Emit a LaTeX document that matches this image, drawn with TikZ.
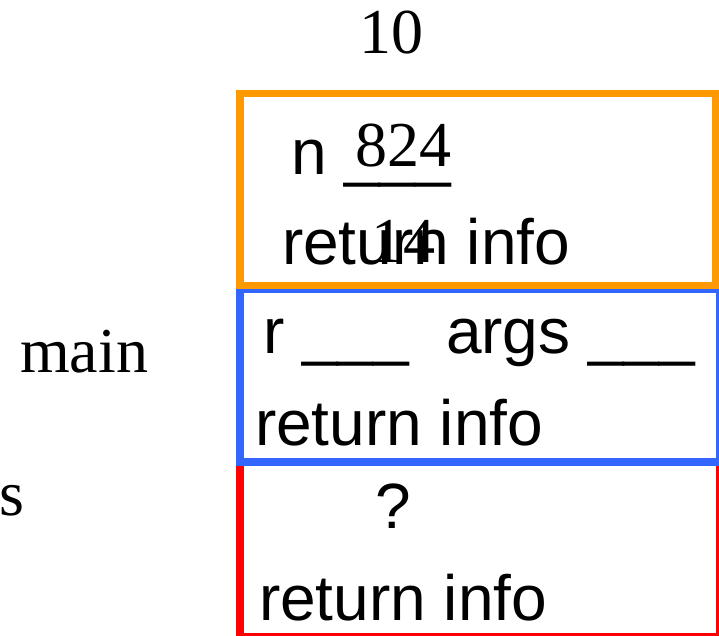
\documentclass[tikz,border=0pt]{standalone}
\usepackage{fontspec}
\setmainfont{Liberation Serif}
\newfontfamily\sansfam{Liberation Sans}
\definecolor{frameorange}{HTML}{FF9900}
\definecolor{frameblue}{HTML}{3366FF}
\definecolor{framered}{HTML}{FF0000}
\begin{document}
\begin{tikzpicture}[x=1pt,y=-1pt,
  lbl/.style={anchor=base west,inner sep=0pt,outer sep=0pt,font=\fontsize{64}{64}\selectfont},
  slbl/.style={lbl,font=\fontsize{64}{64}\selectfont\sansfam},
  framebox/.style={line width=7.5pt}]
\useasboundingbox (0,0) rectangle (719,635);
\clip (0,0) rectangle (719,635);
% frames
\draw[framebox,framered] (240,462) rectangle (720,637);
\draw[framebox,frameblue] (240,289) rectangle (720,462);
\draw[framebox,frameorange] (240,93.5) rectangle (715.5,285.5);
% left labels and top number
\node[lbl] (ten) at (359,53) {10};
\node[lbl] (main) at (20,372) {main};
\node[lbl] (s) at (-1,515) {s};
% orange frame contents
\node[slbl] (n) at (291,174) {n \_\_\_};
\node[lbl] (val) at (355,166) {824};
\node[slbl] (ret1) at (282,264) {return info};
\node[lbl] (fourteen) at (371,262) {14};
% blue frame contents
\node[slbl] (r) at (263,353) {r \_\_\_};
\node[slbl] (args) at (446,353) {args \_\_\_};
\node[slbl] (ret2) at (255,445) {return info};
% red frame contents
\node[slbl] (q) at (375,528) {?};
\node[slbl] (ret3) at (259,620) {return info};
\end{tikzpicture}
\end{document}
